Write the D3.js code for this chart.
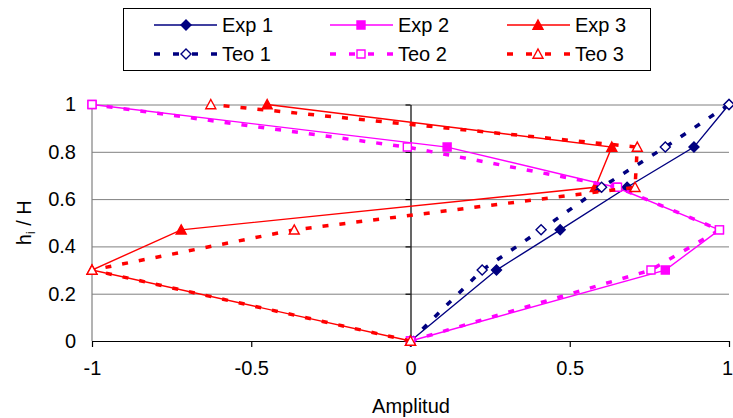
<!DOCTYPE html>
<html>
<head>
<meta charset="utf-8">
<script src="https://cdn.jsdelivr.net/npm/d3@7"></script>
<style>
  html, body { margin: 0; padding: 0; background: #fff; }
  svg { display: block; font-family: "Liberation Sans", Arial, sans-serif; }
</style>
</head>
<body>
<svg id="chart" width="733" height="418"></svg>
<script>
// ---- data ----
const heights = [0, 0.3, 0.47, 0.65, 0.82, 1];
const exp1 = [0, 0.27, 0.47, 0.68, 0.89, 1];
const exp2 = [0, 0.80, 0.97, 0.645, 0.115, -1];
const exp3 = [0, -1, -0.72, 0.58, 0.632, -0.45];
const teo1 = [0, 0.225, 0.41, 0.60, 0.80, 1];
const teo2 = [0, 0.755, 0.97, 0.65, -0.01, -1];
const teo3 = [0, -1, -0.365, 0.705, 0.712, -0.627];
const seriesNames = ["Exp 1", "Exp 2", "Exp 3", "Teo 1", "Teo 2", "Teo 3"];
const xTicks = [-1, -0.5, 0, 0.5, 1];
const xTickLabels = ["-1", "-0.5", "0", "0.5", "1"];
const yTicks = [0, 0.2, 0.4, 0.6, 0.8, 1];
const yTickLabels = ["0", "0.2", "0.4", "0.6", "0.8", "1"];

const series = [
  { name: seriesNames[0], vals: exp1, color: "#000080", marker: "diamond", open: false, dashed: false },
  { name: seriesNames[1], vals: exp2, color: "#FF00FF", marker: "square", open: false, dashed: false },
  { name: seriesNames[2], vals: exp3, color: "#FF0000", marker: "triangle", open: false, dashed: false },
  { name: seriesNames[3], vals: teo1, color: "#000080", marker: "diamond", open: true, dashed: true },
  { name: seriesNames[4], vals: teo2, color: "#FF00FF", marker: "square", open: true, dashed: true },
  { name: seriesNames[5], vals: teo3, color: "#FF0000", marker: "triangle", open: true, dashed: true }
];

const svg = d3.select("#chart");
const x = d3.scaleLinear().domain([-1, 1]).range([92, 729]);
const y = d3.scaleLinear().domain([0, 1]).range([341, 104.5]);
const FONT = 20;

function markerPath(type) {
  if (type === "diamond") return "M0,-5L5,0L0,5L-5,0Z";
  if (type === "square") return "M-4,-4L4,-4L4,4L-4,4Z";
  return "M0,-5L5,4.2L-5,4.2Z";
}

// gridlines
const grid = svg.append("g").attr("transform", `translate(${x(-1)},0)`)
  .call(d3.axisLeft(y).tickValues(yTicks.slice(1)).tickSize(-(x(1) - x(-1))).tickFormat(""));
grid.select(".domain").remove();
grid.selectAll("line").attr("stroke", "#808080").attr("stroke-width", 1);

// left border line (gray)
svg.append("line").attr("x1", x(-1)).attr("x2", x(-1)).attr("y1", y(0)).attr("y2", y(1))
  .attr("stroke", "#808080").attr("stroke-width", 1.2);

// y tick labels at left
const yLab = svg.append("g").attr("transform", `translate(${x(-1)},0)`)
  .call(d3.axisLeft(y).tickValues(yTicks).tickSize(0).tickPadding(16).tickFormat((d, i) => yTickLabels[i]));
yLab.select(".domain").remove();
yLab.selectAll("text").attr("font-size", FONT).attr("font-family", "Liberation Sans, Arial, sans-serif").attr("fill", "#000");

// y axis line at x=0 with ticks
const yAx = svg.append("g").attr("transform", `translate(${x(0)},0)`)
  .call(d3.axisLeft(y).tickValues(yTicks).tickSize(5).tickSizeOuter(0).tickFormat(""));
yAx.selectAll("line, path").attr("stroke", "#000").attr("stroke-width", 1.2);

// x axis
const xAx = svg.append("g").attr("transform", `translate(0,${y(0)})`)
  .call(d3.axisBottom(x).tickValues(xTicks).tickSize(6).tickSizeOuter(0).tickPadding(14).tickFormat((d, i) => xTickLabels[i]));
xAx.selectAll("line, path").attr("stroke", "#000").attr("stroke-width", 1.2);
xAx.selectAll("text").attr("font-size", FONT).attr("font-family", "Liberation Sans, Arial, sans-serif").attr("fill", "#000")
  .attr("dx", (d, i) => i === xTicks.length - 1 ? -2 : 0);

// axis titles
svg.append("text").attr("x", 411).attr("y", 413).attr("text-anchor", "middle")
  .attr("font-size", FONT).text("Amplitud");
const yt = svg.append("text").attr("transform", `translate(31,${(y(0) + y(1)) / 2}) rotate(-90)`)
  .attr("text-anchor", "middle").attr("font-size", FONT);
yt.append("tspan").text("h");
yt.append("tspan").attr("font-size", 12).attr("dy", 4).text("i");
yt.append("tspan").attr("dy", -4).text(" / H");

// series lines
const line = d3.line().x(d => x(d[0])).y(d => y(d[1]));
series.forEach(s => {
  const pts = s.vals.map((v, i) => [v, heights[i]]);
  svg.append("path").datum(pts).attr("d", line).attr("fill", "none")
    .attr("stroke", s.color)
    .attr("stroke-width", s.dashed ? 3.5 : 1.4)
    .attr("stroke-dasharray", s.dashed ? "6,11" : null);
  svg.append("g").selectAll("path").data(pts).join("path")
    .attr("transform", d => `translate(${x(d[0])},${y(d[1])})`)
    .attr("d", markerPath(s.marker))
    .attr("fill", s.open ? "#fff" : s.color)
    .attr("stroke", s.color).attr("stroke-width", 1.4);
});

// legend
svg.append("rect").attr("x", 123.5).attr("y", 8.5).attr("width", 527).attr("height", 62)
  .attr("fill", "#fff").attr("stroke", "#000").attr("stroke-width", 1);
const legCols = [[154, 217, 186, 222], [330, 393, 361, 398], [507, 570, 538, 575]];
const legRows = [25, 54];
series.forEach((s, i) => {
  const c = legCols[i % 3], r = legRows[Math.floor(i / 3)];
  svg.append("line").attr("x1", c[0]).attr("x2", c[1]).attr("y1", r).attr("y2", r)
    .attr("stroke", s.color).attr("stroke-width", s.dashed ? 3.5 : 1.4)
    .attr("stroke-dasharray", s.dashed ? "6,13" : null);
  svg.append("path").attr("transform", `translate(${c[2]},${r})`).attr("d", markerPath(s.marker))
    .attr("fill", s.open ? "#fff" : s.color).attr("stroke", s.color).attr("stroke-width", 1.4);
  svg.append("text").attr("x", c[3]).attr("y", r).attr("dy", "0.35em")
    .attr("font-size", FONT).text(s.name);
});
</script>
</body>
</html>
